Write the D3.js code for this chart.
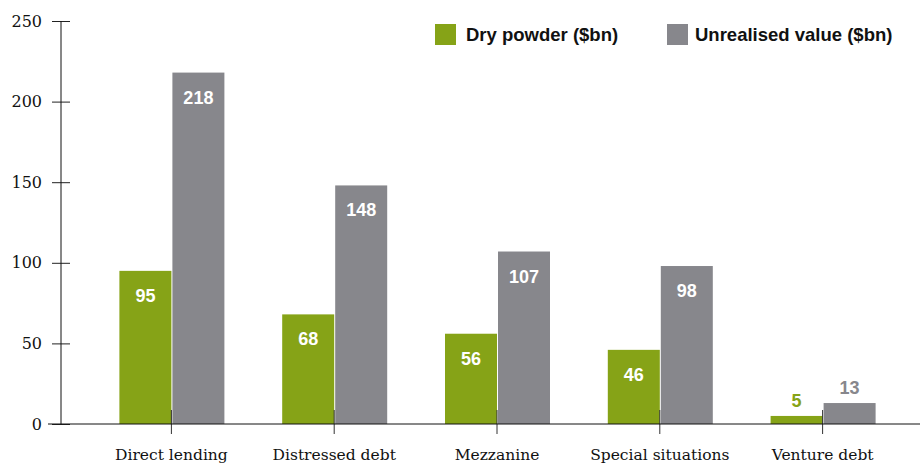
<!DOCTYPE html>
<html>
<head>
  <meta charset="utf-8">
  <script src="https://d3js.org/d3.v7.min.js"></script>
  <style>
    body { margin: 0; background: #fff; }
    .tick text { font-family: "DejaVu Serif", serif; }
  </style>
</head>
<body>
<script>
  // chart data
  var categories = ["Direct lending", "Distressed debt", "Mezzanine", "Special situations", "Venture debt"];
  var seriesNames = ["Dry powder ($bn)", "Unrealised value ($bn)"];
  var dryPowder = [95, 68, 56, 46, 5];
  var unrealised = [218, 148, 107, 98, 13];
  var yTicks = [0, 50, 100, 150, 200, 250];
  var colors = ["#86a317", "#87878c"];

  var width = 920, height = 463;
  var svg = d3.select("body").append("svg")
      .attr("width", width)
      .attr("height", height);

  var x = d3.scaleBand().domain(categories).range([90, 904]).padding(0);
  var y = d3.scaleLinear().domain([0, 250]).range([424, 21]);
  var barW = 52;

  var rows = categories.map(function (c, i) {
    return { cat: c, vals: [dryPowder[i], unrealised[i]] };
  });

  // bars
  var g = svg.selectAll(".grp").data(rows).enter().append("g")
      .attr("transform", function (d) { return "translate(" + (x(d.cat) + x.bandwidth() / 2) + ",0)"; });

  g.selectAll("rect").data(function (d) { return d.vals; }).enter().append("rect")
      .attr("x", function (d, i) { return i === 0 ? -barW : 1; })
      .attr("width", barW)
      .attr("y", function (d) { return y(d); })
      .attr("height", function (d) { return y(0) - y(d); })
      .attr("fill", function (d, i) { return colors[i]; });

  g.selectAll("text.val").data(function (d) { return d.vals; }).enter().append("text")
      .attr("class", "val")
      .attr("x", function (d, i) { return i === 0 ? -barW / 2 : 1 + barW / 2; })
      .attr("y", function (d) { return d < 30 ? y(d) - 9 : y(d) + 31; })
      .attr("text-anchor", "middle")
      .style("font-family", "Liberation Sans, Arial, sans-serif")
      .style("font-size", "18px")
      .style("font-weight", "bold")
      .attr("fill", function (d, i) { return d < 30 ? colors[i] : "#fff"; })
      .text(function (d) { return d; });

  // y axis
  var yAxis = svg.append("g")
      .attr("transform", "translate(61,0)")
      .call(d3.axisLeft(y).tickValues(yTicks).tickSize(9).tickPadding(10));
  yAxis.select(".domain").remove();
  yAxis.selectAll(".tick line").attr("x2", 9).attr("x1", -9).attr("stroke", "#222");
  yAxis.append("line").attr("x1", 0).attr("x2", 0).attr("y1", y(250)).attr("y2", y(0)).attr("stroke", "#111");
  yAxis.selectAll(".tick text").style("font-size", "16px").attr("fill", "#111");

  // x axis
  var xAxis = svg.append("g")
      .attr("transform", "translate(0," + y(0) + ")")
      .call(d3.axisBottom(x).tickSize(10).tickPadding(17));
  xAxis.select(".domain").remove();
  xAxis.append("line").attr("x1", 48).attr("x2", 920).attr("stroke", "#111");
  xAxis.selectAll(".tick line").attr("y1", -14).attr("y2", 10).attr("stroke", "#333");
  xAxis.selectAll(".tick text").style("font-size", "15.5px").attr("fill", "#111")
      .attr("dy", "0.6em");

  // legend
  var legX = [435, 667];
  var leg = svg.selectAll(".leg").data(seriesNames).enter().append("g")
      .attr("transform", function (d, i) { return "translate(" + legX[i] + ",24)"; });
  leg.append("rect").attr("width", 21).attr("height", 21)
      .attr("fill", function (d, i) { return colors[i]; });
  leg.append("text").attr("x", function (d, i) { return i === 0 ? 31 : 28; }).attr("y", 17)
      .style("font-family", "Liberation Sans, Arial, sans-serif")
      .style("font-size", "18.5px")
      .style("font-weight", "bold")
      .attr("fill", "#111")
      .text(function (d) { return d; });
</script>
</body>
</html>
